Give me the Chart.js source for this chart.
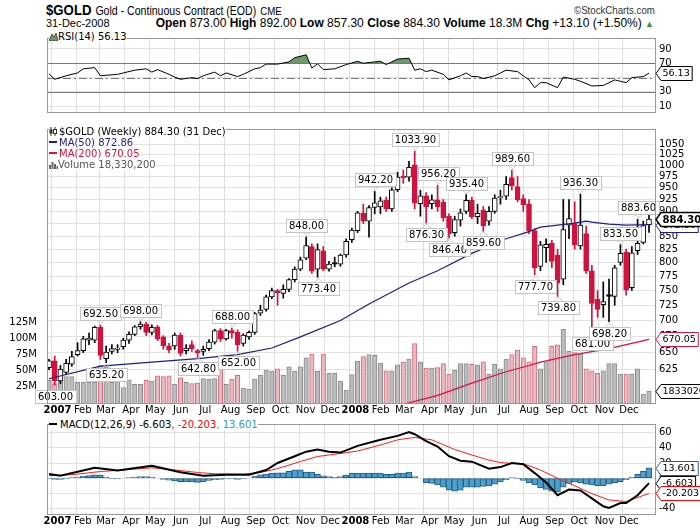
<!DOCTYPE html>
<html>
<head>
<meta charset="utf-8">
<script src="https://cdn.jsdelivr.net/npm/chart.js@4.4.0/dist/chart.umd.min.js"></script>
<style>
  body { margin: 0; width: 700px; height: 530px; overflow: hidden; position: relative; background: #fff; font-family: 'DejaVu Sans', sans-serif; }
  canvas { position: absolute; left: 0; }
  .narrow { font-family: 'Liberation Sans Narrow', 'Liberation Sans', sans-serif; white-space: nowrap; position: absolute; }
  .leg { position: absolute; font-size: 10px; line-height: 11px; white-space: nowrap; }
  .leg span { background: #fff; }
</style>
</head>
<body>
<div class="narrow" style="left:46px;top:1px;transform:scaleX(0.88);transform-origin:left top;">
  <span style="font-size:15px;font-weight:bold;">$GOLD</span>
  <span style="font-size:12px;">Gold - Continuous Contract (EOD)</span>
  <span style="font-size:11px;">CME</span>
</div>
<div class="narrow" style="right:45px;top:4px;font-size:11px;color:#333;transform:scaleX(0.88);transform-origin:right top;">&copy;StockCharts.com</div>
<div class="narrow" style="left:46px;top:17px;font-size:11px;">31-Dec-2008</div>
<div class="narrow" style="right:46px;top:16px;font-size:12px;">
  <b>Open</b> 873.00 <b>High</b> 892.00 <b>Low</b> 857.30 <b>Close</b> 884.30 <b>Volume</b> 18.3M <b>Chg</b> +13.10 (+1.50%) <span style="color:#2a9a2a;font-size:9px;">&#9650;</span>
</div>

<canvas id="rsiChart" width="700" height="94" style="top:28px"></canvas>
<canvas id="priceChart" width="700" height="298" style="top:119px"></canvas>
<canvas id="macdChart" width="700" height="116" style="top:414px"></canvas>

<div class="leg" style="left:49px;top:31px;">
  <span><svg width="9" height="9" style="vertical-align:-1px"><path d="M0 9 L3 2 L5 5 L7 1 L9 9 Z" fill="#6b9a6b" stroke="#333" stroke-width="0.8"/></svg>RSI(14) 56.13</span>
</div>
<div class="leg" style="left:49px;top:126px;">
  <span><svg width="10" height="9" style="vertical-align:-1px"><path d="M2 0 V9 M6 0 V9" stroke="#333"/><rect x="0.5" y="2.5" width="3" height="4" fill="#333"/><rect x="4.5" y="2.5" width="3" height="4" fill="#fff" stroke="#333"/></svg>$GOLD (Weekly) 884.30 (31 Dec)</span><br>
  <span style="color:#1c1c8f;"><b style="display:inline-block;width:8px;height:2px;background:#1c1c8f;vertical-align:3px;margin-right:2px"></b>MA(50) 872.86</span><br>
  <span style="color:#d8103c;"><b style="display:inline-block;width:8px;height:2px;background:#d8103c;vertical-align:3px;margin-right:2px"></b>MA(200) 670.05</span><br>
  <span style="color:#555;"><svg width="9" height="9" style="vertical-align:-1px"><path d="M1 9V5M3.5 9V2M6 9V4M8.5 9V6" stroke="#666" stroke-width="2"/></svg>Volume 18,330,200</span>
</div>
<div class="leg" style="left:49px;top:419px;">
  <span><b style="display:inline-block;width:8px;height:2px;background:#000;vertical-align:3px;margin-right:3px"></b>MACD(12,26,9) -6.603<span style="color:#f00;">, -20.203</span><span style="color:#3399cc;">, 13.601</span></span>
</div>

<script>
// weekly candles, first one = week of 29 Dec 2006, last = 31 Dec 2008
const openP  = [628,638,609,621,633,647,653,669,669,689, 641,652,655,659,669,678,690,694,681,690,
                674,660,660,677,653,662,653,652,656,666, 684,671,684,681,664,674,681,712,718,739,
                750,745,752,769,788,808,830,788,822,788, 800,797,814,843,861,896,880,908,909,923,
                905,946,976,974,1002,916,933,916,924,919, 890,857,882,900,923,889,902,880,900,929,
                932,973,953,927,916,861,793,828,836,814, 770,872,875,831,855,785,735,726,743,740,
                800,819,755,822,838,873];
const highP  = [640,645,631,640,652,665,675,680,691,692.5, 660,662,662,672,682,692,698,697,693,692,
                676,664,680,680,662,668,655,660,670,686, 687,686,688,685,679,683,713,725,742,754,
                752,760,771,792,810,848,835,835,830,802, 810,816,845,866,900,915,912,942.2,930,930,
                950,985,990,1010,1033.9,945,940,935,956.2,925, 895,890,905,935.4,930,915,910,910,935,945,
                975,989.6,975,935,925,865,840,845,842,825, 925,925,920,936.3,870,795,750,765,770,795,
                833.5,825,830,883.6,880,892];
const lowP   = [625,603,605,618,630,645,650,662,665,640, 635.2,648,650,655,664,676,686,676,677,668,
                655,650,655,645,648,652,642.8,646,653,663, 667,669,672,652,660,670,678,708,715,736,
                725,737,748,765,785,805,780,773.4,785,784, 792,793,810,838,857,875,848,895,895,900,
                900,942,960,965,905,890,876.3,905,900,880, 846.4,850,870,895,885,875,859.6,872,896,915,
                925,945,920,900,855,777.7,785,800,790,739.8, 760,845,825,825,780,681,705,705,698.2,725,
                795,742,750,815,835,857.3];
const closeP = [638,609,626,634,644,653,671,672,689,646, 651,656,657,669,678,690,694,681,689,671,
                660,654,677,649,657,656,650,655,666,684, 671,684,680,662,677,681,711,717,739,750,
                746,752,769,788,805,832,784,824,788,797, 797,814,840,862,897,880,908,918,922,905,
                946,974,972,996,917,933,910,924,910,887, 855,883,897,923,889,896,871,900,928,931,
                958,955,924,914,861,790,833,834,802,763, 863,885,833,872,785,728,718,731,740,790,
                817,751,818,836,871.2,884.3];
// weekly volume, millions
const volumeM = [35,30,38,41,41,32,32,32,32,58, 56,32,38,24,36,29,29,35,34,42,
                 41,42,29,39,32,30,31,38,37,38, 55,29,37,43,23,21,37,43,51,49,
                 53,43,56,49,56,70,76,49,76,46, 46,34,20,44,65,72,75,74,62,50,
                 50,59,64,68,92,64,54,54,55,61, 45,51,61,61,60,59,64,45,60,53,
                 68,75,82,70,64,88,53,64,88,90, 114,80,78,76,53,50,46,50,61,61,
                 45,45,45,53,14,18.3302];

// moving averages at a few weeks
const ma50Idx  = [0,9,18,26,33,39,44,51,56,63,68,74,80,84,86,89,92,94,95,98,101,105];
const ma50Val  = [612,630,636,641,647,657,674,700,727,763,785,817,845,859,868,872,876,880,878,874,872,872.86];
const ma200Idx = [62,63,68,74,80,84,86,92,98,105];
const ma200Val = [577,579,589,606,622,631,636,647,656,670.05];

// labelled highs and lows
const annIdx = [1,9,10,16,26,32,33,45,47,57,64,66,68,70,73,76,81,85,89,93,95,98,100,103];
const annVal = [603,692.5,635.2,698,642.8,688,652,848,773.4,942.2,1033.9,876.3,956.2,846.4,935.4,859.6,989.6,777.7,739.8,936.3,681,698.2,833.5,883.6];
const annPos = ['b','a','b','a','b','a','b','a','b','a','a','b','a','b','a','b','a','b','b','a','b','b','a','a'];

// RSI(14)
const rsiIdx = [0,1,3,5,6,8,9,12,13,15,17,18,19,21,22,23,25,26,27,29,30,31,33,34,36,37,38,40,42,43,45,46,47,48,50,52,54,55,57,58,59,61,63,64,65,66,67,69,70,72,73,74,75,76,78,79,80,82,83,84,85,86,87,89,90,92,93,95,97,99,101,102,104,105];
const rsiVal = [55.2,47.5,52.5,56.4,62.2,63.8,52.5,54.5,56.4,60.3,62.2,57.6,61.1,54.5,50.6,47.5,49.8,48.6,52.5,57.6,
                52.5,56.4,51.4,54.5,62.2,63.8,68.8,68.8,71.9,77.8,81.7,63.4,69.2,61.1,62.2,68.1,72.7,70,71.9,72.7,
                68.1,75.8,77,60.3,62.2,58.3,60.3,54.5,46.7,52.5,56.4,51.4,51.4,48.6,52.5,56.4,60.3,58.3,52.5,46.7,
                35.8,42.8,42.8,35.8,50.6,47.5,44.8,38.2,38.9,46.7,42.8,49.8,51.4,56.13];

// MACD(12,26,9)
const macdIdx = [0,2,8,12,18,23,27,31,35,38,40,43,45,47,49,51,54,58,61,63,64,66,68,70,72,74,77,79,81,83,85,87,89,91,93,95,97,98,100,101,103,105];
const macdVal = [5.4,3.3,13.75,10,16.25,7.9,3.3,4.6,4.6,10.8,20,29,35,37.8,35,33.8,42.6,50.6,55.8,61,
                 58,49,41.8,29,23,21.8,12.6,14.6,20,18.3,6.7,-5.8,-22.5,-15,-16.25,-26.7,-37.1,-39.2,-32.9,-32.9,-22.5,-6.603];
const sigIdx = [0,4,9,13,18,22,26,29,34,37,40,44,47,51,54,58,61,64,67,71,74,77,79,81,83,86,90,92,95,98,101,105];
const sigVal = [3.3,4.6,8.75,10.8,13.75,10.8,7.5,5.8,5.4,7.5,12.6,22,28.6,32.6,35.8,43.8,50.6,53.8,50.6,37.8,
                30.6,23.8,20.6,19.5,19.2,10.8,-3.75,-10,-20.4,-28.75,-30.8,-20.203];
const histVal = [-1,-1.5,-1.5,-1,0.5,1.5,2.5,3.5,4.5,4, 1,-0.5,-1,0,0.5,1.5,2,2,1.5,0,
                 -1.5,-2.5,-3.5,-4.5,-5,-5,-5.5,-4.5,-3,-2, -1.5,-1,-1,-1.5,-1,0,2.5,4.5,5.5,6.5,
                 7,7,9,11,11,8,8,5,3,2, 1,2,4,6.8,6.8,6.8,6.8,6.8,6.8,5,
                 5,6.8,6.8,8,2,0,-6,-7,-9,-12, -16,-17,-16,-12,-12,-12,-11,-10,-8,-5,
                 -2,0.5,-1,-3,-6,-9,-13,-15,-17,-18, -12,-7,-5,-6,-8,-9,-10,-10,-8,-6,
                 -4.5,-2,1.5,5,9,13.601];

// axis ticks
const tickLabels = ['2007','Feb','Mar','Apr','May','Jun','Jul','Aug','Sep','Oct','Nov','Dec',
                    '2008','Feb','Mar','Apr','May','Jun','Jul','Aug','Sep','Oct','Nov','Dec'];
const priceTicks = [625,650,675,700,725,750,775,800,825,850,875,900,925,950,975,1000,1025,1050];
const volTicks = [25,50,75,100,125];
const rsiTicks = [10,30,50,70,90];
const macdTicks = [-40,-20,0,20,40,60];

// month starts expressed in weeks from the first candle
const firstWeek = new Date(2006, 11, 29);
const tickPos = tickLabels.map((_, k) => (new Date(2007, k, 1) - firstWeek) / (7 * 864e5));

const RED = '#d1123f';
const X_MIN = -0.35, X_MAX = 106.05;

Chart.defaults.font.family = "'DejaVu Sans', sans-serif";
Chart.defaults.font.size = 10;
Chart.defaults.color = '#000';
Chart.defaults.animation = false;
Chart.defaults.plugins.legend.display = false;
Chart.defaults.plugins.tooltip.enabled = false;

// candle colours: black/red vs previous close, hollow when close > open
const candleColor = closeP.map((c, k) => c >= (k ? closeP[k - 1] : openP[k]) ? '#000' : RED);
const candleFill = closeP.map((c, k) => c > openP[k] ? '#fff' : candleColor[k]);
const volFill = candleColor.map(c => c === RED ? '#e8b9c0' : '#bcbcbc');
const volBorder = candleColor.map(c => c === RED ? '#d46a7c' : '#8c8c8c');

function xAxis(showLabels, h) {
  return {
    type: 'linear', min: X_MIN, max: X_MAX, offset: false,
    afterBuildTicks: s => { s.ticks = tickPos.map(v => ({ value: v })); },
    afterFit: s => { s.height = h; },
    grid: { color: '#dddddd', drawTicks: false, offset: false },
    border: { display: false },
    ticks: {
      display: showLabels, autoSkip: false, maxRotation: 0, padding: 1, labelOffset: 6,
      callback: (v, k) => tickLabels[k],
      font: ctx => ({ size: 10, weight: /^\d/.test(tickLabels[ctx.index]) ? 'bold' : 'normal' })
    }
  };
}

function rightAxis(extra) {
  return Object.assign({
    position: 'right',
    afterFit: s => { s.width = 45; },
    grid: { color: '#e2e2e2', drawTicks: false },
    border: { display: false },
    ticks: { padding: 4, callback: v => String(v) }
  }, extra);
}

// frame around the plot area
const frame = {
  id: 'frame',
  afterDraw(chart) {
    const a = chart.chartArea, ctx = chart.ctx;
    ctx.save();
    ctx.strokeStyle = '#999';
    ctx.lineWidth = 1;
    ctx.strokeRect(Math.round(a.left) + 0.5, Math.round(a.top) + 0.5, Math.round(a.right - a.left), Math.round(a.bottom - a.top));
    ctx.restore();
  }
};

// value tags at the right edge
function tagPlugin(tags) {
  return {
    id: 'tags',
    afterDraw(chart) {
      const ctx = chart.ctx, x0 = chart.chartArea.right + 1;
      ctx.save();
      tags.forEach(t => {
        const y = Math.round(chart.scales[t.axis].getPixelForValue(t.value)) + 0.5;
        ctx.font = (t.bold ? 'bold 10px ' : '9.5px ') + "'DejaVu Sans', sans-serif";
        const w = ctx.measureText(t.text).width + 4, h = 14;
        ctx.beginPath();
        ctx.moveTo(x0, y);
        ctx.lineTo(x0 + 5, y - h / 2);
        ctx.lineTo(x0 + 5 + w, y - h / 2);
        ctx.lineTo(x0 + 5 + w, y + h / 2);
        ctx.lineTo(x0 + 5, y + h / 2);
        ctx.closePath();
        ctx.fillStyle = '#fff';
        ctx.fill();
        ctx.lineWidth = t.bold ? 1.5 : 1;
        ctx.strokeStyle = t.color;
        ctx.stroke();
        ctx.fillStyle = '#000';
        ctx.textBaseline = 'middle';
        ctx.fillText(t.text, x0 + 6.5, y + 0.5);
      });
      ctx.restore();
    }
  };
}

// RSI reference lines
const rsiLines = {
  id: 'rsiLines',
  beforeDatasetsDraw(chart) {
    const { ctx, chartArea: a, scales: { y } } = chart;
    ctx.save();
    ctx.strokeStyle = '#777';
    ctx.lineWidth = 1;
    [30, 70].forEach(v => {
      const py = Math.round(y.getPixelForValue(v)) + 0.5;
      ctx.beginPath(); ctx.moveTo(a.left, py); ctx.lineTo(a.right, py); ctx.stroke();
    });
    const p50 = Math.round(y.getPixelForValue(50)) + 0.5;
    ctx.setLineDash([8, 3, 2, 3]);
    ctx.beginPath(); ctx.moveTo(a.left, p50); ctx.lineTo(a.right, p50); ctx.stroke();
    ctx.restore();
  }
};

// boxes naming the swing highs and lows
const annPlugin = {
  id: 'ann',
  afterDatasetsDraw(chart) {
    const { ctx, scales: { x, price } } = chart;
    ctx.save();
    ctx.font = "10px 'DejaVu Sans', sans-serif";
    ctx.textAlign = 'center';
    ctx.textBaseline = 'middle';
    ctx.lineWidth = 1;
    annIdx.forEach((idx, k) => {
      const above = annPos[k] === 'a';
      const px = Math.round(x.getPixelForValue(idx)) + 0.5;
      const py = Math.round(price.getPixelForValue(annVal[k]));
      const txt = annVal[k].toFixed(2);
      const w = Math.round(ctx.measureText(txt).width) + 6, h = 13;
      const by = above ? py - 5 - h : py + 5;
      ctx.strokeStyle = '#c4c4c4';
      ctx.beginPath();
      if (above) { ctx.moveTo(px - 4, by + h); ctx.lineTo(px, py - 1); ctx.lineTo(px + 4, by + h); }
      else { ctx.moveTo(px - 4, by); ctx.lineTo(px, py + 1); ctx.lineTo(px + 4, by); }
      ctx.stroke();
      const bx = Math.round(px - w / 2) + 0.5;
      ctx.fillStyle = '#fff';
      ctx.fillRect(bx, by + 0.5, w, h);
      ctx.strokeRect(bx, by + 0.5, w, h);
      ctx.fillStyle = '#000';
      ctx.fillText(txt, px, by + h / 2 + 1);
    });
    ctx.restore();
  }
};

// RSI panel
new Chart(document.getElementById('rsiChart'), {
  type: 'line',
  data: {
    datasets: [{
      data: rsiIdx.map((x, k) => ({ x, y: rsiVal[k] })),
      borderColor: '#000', borderWidth: 1, pointRadius: 0, tension: 0,
      fill: { target: { value: 70 }, above: '#6b9a6b', below: 'rgba(0,0,0,0)' }
    }]
  },
  options: {
    responsive: false,
    layout: { padding: { top: 2, left: 47, right: 0, bottom: 0 } },
    scales: {
      x: xAxis(false, 4),
      y: rightAxis({ min: 1.8, max: 105.3, afterBuildTicks: s => { s.ticks = rsiTicks.map(v => ({ value: v })); } })
    }
  },
  plugins: [rsiLines, frame, tagPlugin([{ axis: 'y', value: 56.13, text: '56.13', color: '#000' }])]
});

// price + volume panel
new Chart(document.getElementById('priceChart'), {
  type: 'bar',
  data: {
    datasets: [
      { type: 'line', data: ma50Idx.map((x, k) => ({ x, y: ma50Val[k] })), yAxisID: 'price',
        borderColor: '#1c1c8f', borderWidth: 1.2, pointRadius: 0, order: 0 },
      { type: 'line', data: ma200Idx.map((x, k) => ({ x, y: ma200Val[k] })), yAxisID: 'price',
        borderColor: '#d8103c', borderWidth: 1.2, pointRadius: 0, order: 0 },
      { data: closeP.map((c, k) => ({ x: k, y: [openP[k], c] })), yAxisID: 'price', grouped: false,
        backgroundColor: candleFill, borderColor: candleColor, borderWidth: 1, borderSkipped: false,
        barThickness: 5, order: 1 },
      { data: highP.map((h, k) => ({ x: k, y: [lowP[k], h] })), yAxisID: 'price', grouped: false,
        backgroundColor: candleColor, borderWidth: 0, barThickness: 1, order: 2 },
      { data: volumeM.map((v, k) => ({ x: k, y: v })), yAxisID: 'vol', grouped: false,
        backgroundColor: volFill, borderColor: volBorder, borderWidth: 1, borderSkipped: 'start',
        barThickness: 4.5, order: 3 }
    ]
  },
  options: {
    responsive: false,
    layout: { padding: { top: 2, left: 0, right: 0, bottom: 0 } },
    scales: {
      x: xAxis(true, 14),
      price: rightAxis({ type: 'logarithmic', min: 578.8, max: 1088,
        afterBuildTicks: s => { s.ticks = priceTicks.map(v => ({ value: v })); } }),
      vol: {
        position: 'left', min: 0, max: 424.7,
        afterFit: s => { s.width = 47; },
        afterBuildTicks: s => { s.ticks = volTicks.map(v => ({ value: v })); },
        grid: { display: false },
        border: { display: false },
        ticks: { padding: 2, callback: v => v + 'M' }
      }
    }
  },
  plugins: [annPlugin, frame, tagPlugin([
    { axis: 'vol', value: 18.3302, text: '18330200', color: '#000' },
    { axis: 'price', value: 670.05, text: '670.05', color: '#d8103c' },
    { axis: 'price', value: 872.86, text: '872.86', color: '#1c1c8f' },
    { axis: 'price', value: 884.3, text: '884.30', color: '#000', bold: true }
  ])]
});

// MACD panel
new Chart(document.getElementById('macdChart'), {
  type: 'bar',
  data: {
    datasets: [
      { type: 'line', data: macdIdx.map((x, k) => ({ x, y: macdVal[k] })),
        borderColor: '#000', borderWidth: 2, pointRadius: 0, order: 0 },
      { type: 'line', data: sigIdx.map((x, k) => ({ x, y: sigVal[k] })),
        borderColor: '#ff1a1a', borderWidth: 1, pointRadius: 0, order: 1 },
      { data: histVal.map((v, k) => ({ x: k, y: v })), grouped: false,
        backgroundColor: '#4f9fcc', borderColor: '#1f5f86', borderWidth: 1, borderSkipped: false,
        categoryPercentage: 1, barPercentage: 1, order: 2 }
    ]
  },
  options: {
    responsive: false,
    layout: { padding: { top: 2, left: 47, right: 0, bottom: 0 } },
    scales: {
      x: xAxis(true, 16),
      y: rightAxis({ min: -47.3, max: 71.5, afterBuildTicks: s => { s.ticks = macdTicks.map(v => ({ value: v })); } })
    }
  },
  plugins: [frame, tagPlugin([
    { axis: 'y', value: 13.601, text: '13.601', color: '#3355aa' },
    { axis: 'y', value: -6.603, text: '-6.603', color: '#000' },
    { axis: 'y', value: -20.203, text: '-20.203', color: '#ff0000' }
  ])]
});
</script>
</body>
</html>
